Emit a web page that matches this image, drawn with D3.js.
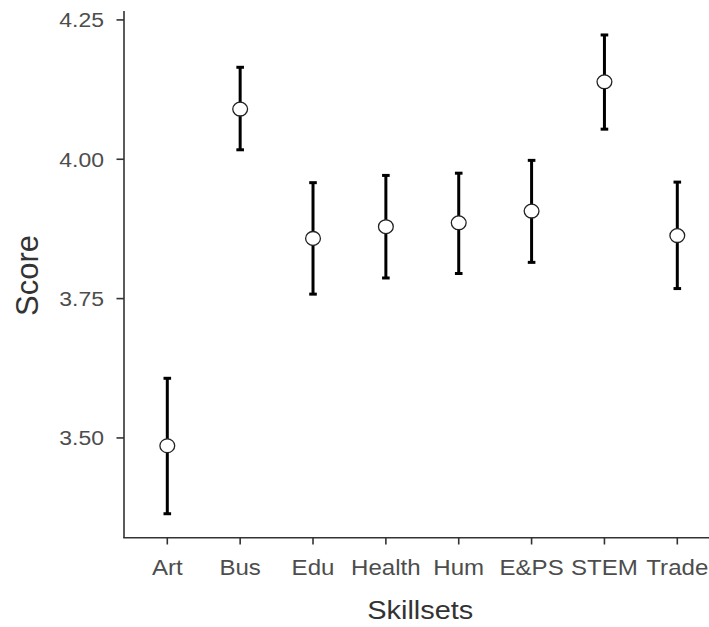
<!DOCTYPE html>
<html>
<head>
<meta charset="utf-8">
<script src="https://cdn.jsdelivr.net/npm/d3@7"></script>
<style>
  html, body { margin: 0; padding: 0; background: #fff; }
  svg { display: block; }
  text { font-family: "Liberation Sans", Arial, Helvetica, sans-serif; }
</style>
</head>
<body>
<script>
// ---- data ----
const categories = ["Art", "Bus", "Edu", "Health", "Hum", "E&PS", "STEM", "Trade"];
const means  = [3.486, 4.090, 3.858, 3.879, 3.886, 3.907, 4.139, 3.863];
const lowers = [3.364, 4.017, 3.758, 3.787, 3.795, 3.815, 4.054, 3.768];
const uppers = [3.607, 4.165, 3.958, 3.971, 3.975, 3.998, 4.223, 3.959];
const yTicks = [3.50, 3.75, 4.00, 4.25];
const xTitle = "Skillsets";
const yTitle = "Score";

const W = 709, H = 627;
const stretch = 1.12;

const svg = d3.select("body").append("svg").attr("width", W).attr("height", H);

const x = d3.scalePoint().domain(categories).range([167.3, 677.3]);
const y = d3.scaleLinear().domain([3.321, 4.266]).range([537.7, 11]);

const axisColor = "#333333";
const tickText = "#4d4d4d";

// axes lines
svg.append("line").attr("x1", 124).attr("x2", 124).attr("y1", 11).attr("y2", 537.7)
  .attr("stroke", axisColor).attr("stroke-width", 1.6);
svg.append("line").attr("x1", 123.2).attr("x2", W).attr("y1", 537.7).attr("y2", 537.7)
  .attr("stroke", axisColor).attr("stroke-width", 1.6);

// y ticks
const yg = svg.append("g");
yTicks.forEach(t => {
  const py = y(t);
  yg.append("line").attr("x1", 116.5).attr("x2", 124).attr("y1", py).attr("y2", py)
    .attr("stroke", axisColor).attr("stroke-width", 1.6);
  yg.append("text")
    .attr("transform", `translate(104,${py + 7.5}) scale(${stretch},1)`)
    .attr("text-anchor", "end")
    .attr("font-size", 20.5)
    .attr("fill", tickText)
    .text(d3.format(".2f")(t));
});

// x ticks
const xg = svg.append("g");
categories.forEach(c => {
  const px = x(c);
  xg.append("line").attr("x1", px).attr("x2", px).attr("y1", 537.7).attr("y2", 544.5)
    .attr("stroke", axisColor).attr("stroke-width", 1.6);
  xg.append("text")
    .attr("transform", `translate(${px},575) scale(${stretch},1)`)
    .attr("text-anchor", "middle")
    .attr("font-size", 21.5)
    .attr("fill", tickText)
    .text(c);
});

// titles
svg.append("text")
  .attr("transform", `translate(420.3,619) scale(1.1,1)`)
  .attr("text-anchor", "middle")
  .attr("font-size", 26.3)
  .attr("fill", "#333")
  .text(xTitle);
svg.append("text")
  .attr("transform", `translate(37.5,275.5) scale(1.04,1) rotate(-90)`)
  .attr("text-anchor", "middle")
  .attr("font-size", 31)
  .attr("fill", "#333")
  .text(yTitle);

// error bars
const data = categories.map((c, i) => ({ c, m: means[i], lo: lowers[i], hi: uppers[i] }));
const eb = svg.append("g");
data.forEach(d => {
  const px = x(d.c);
  eb.append("line").attr("x1", px).attr("x2", px).attr("y1", y(d.hi)).attr("y2", y(d.lo))
    .attr("stroke", "#000").attr("stroke-width", 3);
  [d.hi, d.lo].forEach(v => {
    eb.append("line").attr("x1", px - 3.8).attr("x2", px + 3.8).attr("y1", y(v)).attr("y2", y(v))
      .attr("stroke", "#000").attr("stroke-width", 3);
  });
});

// points
svg.append("g").selectAll("ellipse").data(data).join("ellipse")
  .attr("cx", d => x(d.c))
  .attr("cy", d => y(d.m))
  .attr("rx", 7.4)
  .attr("ry", 6.9)
  .attr("fill", "#fff")
  .attr("stroke", "#222")
  .attr("stroke-width", 1.3);
</script>
</body>
</html>
